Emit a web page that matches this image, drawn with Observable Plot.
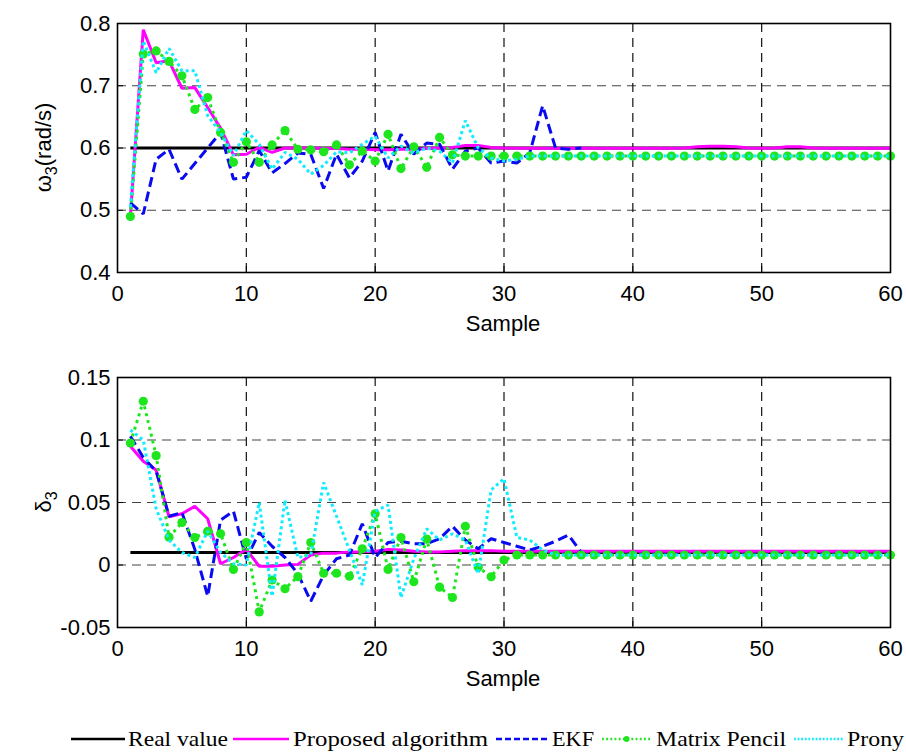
<!DOCTYPE html>
<html>
<head>
<meta charset="utf-8">
<script src="https://cdn.jsdelivr.net/npm/d3@7"></script>
<script src="https://cdn.jsdelivr.net/npm/@observablehq/plot@0.6"></script>
<style>
  html, body { margin: 0; padding: 0; background: white; }
  #wrap { position: relative; width: 906px; height: 754px; background: white; overflow: hidden; }
  #wrap > svg, #wrap > div { position: absolute; left: 0; }
</style>
</head>
<body>
<div id="wrap"></div>
<script>
// ---------- data ----------
const samples = [1,2,3,4,5,6,7,8,9,10,11,12,13,14,15,16,17,18,19,20,21,22,23,24,25,26,27,28,29,30,
  31,32,33,34,35,36,37,38,39,40,41,42,43,44,45,46,47,48,49,50,51,52,53,54,55,56,57,58,59,60];
const seriesNames = ["Real value", "Proposed algorithm", "EKF", "Matrix Pencil", "Prony"];
const xTicks = [0, 10, 20, 30, 40, 50, 60];
const omegaTicks = [0.4, 0.5, 0.6, 0.7, 0.8];
const deltaTicks = [-0.05, 0, 0.05, 0.1, 0.15];

// omega_3 (rad/s)
const omegaReal = [0.6,0.6,0.6,0.6,0.6,0.6,0.6,0.6,0.6,0.6,0.6,0.6,0.6,0.6,0.6,0.6,0.6,0.6,0.6,0.6,
  0.6,0.6,0.6,0.6,0.6,0.6,0.6,0.6,0.6,0.6,0.6,0.6,0.6,0.6,0.6,0.6,0.6,0.6,0.6,0.6,
  0.6,0.6,0.6,0.6,0.6,0.6,0.6,0.6,0.6,0.6,0.6,0.6,0.6,0.6,0.6,0.6,0.6,0.6,0.6,0.6];
const omegaProposed = [0.49,0.79,0.737,0.74,0.696,0.697,0.665,0.632,0.589,0.59,0.601,0.593,0.6,0.6,0.6,0.599,0.599,0.598,0.598,0.597,
  0.597,0.598,0.598,0.599,0.6,0.601,0.604,0.604,0.601,0.6,0.5995,0.5995,0.5995,0.5995,0.5995,0.5995,0.5995,0.5995,0.5995,0.5995,
  0.5995,0.5995,0.5995,0.6,0.602,0.603,0.603,0.602,0.6,0.5995,0.6,0.602,0.602,0.6,0.5995,0.5995,0.5995,0.5995,0.5995,0.5995];
const omegaEKF = [0.512,0.494,0.582,0.598,0.55,0.575,0.6,0.625,0.55,0.553,0.596,0.56,0.575,0.592,0.59,0.535,0.59,0.552,0.579,0.625,
  0.563,0.622,0.59,0.608,0.606,0.566,0.595,0.6,0.576,0.579,0.576,0.592,0.668,0.6,0.598,0.6];
const omegaMP = [0.49,0.751,0.756,0.739,0.716,0.662,0.681,0.625,0.577,0.61,0.577,0.605,0.628,0.598,0.597,0.594,0.605,0.573,0.595,0.579,
  0.622,0.567,0.602,0.569,0.617,0.589,0.587,0.587,0.587,0.587,0.587,0.587,0.587,0.587,0.587,0.587,0.587,0.587,0.587,0.587,
  0.587,0.587,0.587,0.587,0.587,0.587,0.587,0.587,0.587,0.587,0.587,0.587,0.587,0.587,0.587,0.587,0.587,0.587,0.587,0.587];
const omegaProny = [0.505,0.772,0.721,0.76,0.724,0.724,0.652,0.625,0.588,0.628,0.606,0.566,0.593,0.582,0.558,0.572,0.594,0.592,0.606,0.619,
  0.584,0.603,0.592,0.6,0.595,0.576,0.644,0.6,0.584,0.579,0.582,0.587,0.587,0.587,0.587,0.587,0.587,0.587,0.587,0.587,
  0.587,0.587,0.587,0.587,0.587,0.587,0.587,0.587,0.587,0.587,0.587,0.587,0.587,0.587,0.587,0.587,0.587,0.587,0.587,0.587];

// delta_3
const deltaReal = [0.01,0.01,0.01,0.01,0.01,0.01,0.01,0.01,0.01,0.01,0.01,0.01,0.01,0.01,0.01,0.01,0.01,0.01,0.01,0.01,
  0.01,0.01,0.01,0.01,0.01,0.01,0.01,0.01,0.01,0.01,0.01,0.01,0.01,0.01,0.01,0.01,0.01,0.01,0.01,0.01,
  0.01,0.01,0.01,0.01,0.01,0.01,0.01,0.01,0.01,0.01,0.01,0.01,0.01,0.01,0.01,0.01,0.01,0.01,0.01,0.01];
const deltaProposed = [0.095,0.083,0.076,0.0386,0.041,0.047,0.037,0.001,0.006,0.0125,-0.001,-0.001,0,0.0005,0.008,0.0095,0.0095,0.0105,0.0105,0.011,
  0.0125,0.012,0.011,0.0105,0.0105,0.011,0.0115,0.0115,0.0115,0.011,0.011,0.011,0.011,0.011,0.011,0.011,0.011,0.011,0.011,0.011,
  0.011,0.011,0.011,0.011,0.011,0.011,0.011,0.011,0.011,0.011,0.011,0.011,0.011,0.011,0.011,0.011,0.011,0.011,0.011,0.011];
const deltaEKF = [0.103,0.086,0.075,0.039,0.042,0.0125,-0.025,0.036,0.043,0.005,0.026,0.015,0.006,-0.007,-0.029,-0.008,0.005,0.008,0.033,0.006,
  0.018,0.019,0.017,0.017,0.021,0.031,0.02,0.013,0.021,0.018,0.015,0.012,0.015,0.019,0.024,0.01];
const deltaMP = [0.0976,0.131,0.0875,0.0223,0.034,0.022,0.027,0.025,-0.0035,0.018,-0.0375,-0.012,-0.019,-0.0093,0.018,-0.0066,-0.0066,-0.009,0.013,0.041,
  -0.0035,0.022,-0.0134,0.0207,-0.0177,-0.026,0.031,-0.0018,-0.0094,0.004,0.008,0.008,0.008,0.008,0.008,0.008,0.008,0.008,0.008,0.008,
  0.008,0.008,0.008,0.008,0.008,0.008,0.008,0.008,0.008,0.008,0.008,0.008,0.008,0.008,0.008,0.008,0.008,0.008,0.008,0.008];
const deltaProny = [0.108,0.1,0.045,0.02,0.01,0.006,0.027,0.01,0.001,0,0.05,-0.025,0.052,0.006,0.008,0.066,0.039,0.012,-0.016,0.043,
  0.048,-0.026,0.005,0.029,0.02,0.025,0.02,-0.007,0.06,0.069,0.022,0.02,0.012,0.008,0.008,0.008,0.008,0.008,0.008,0.008,
  0.008,0.008,0.008,0.008,0.008,0.008,0.008,0.008,0.008,0.008,0.008,0.008,0.008,0.008,0.008,0.008,0.008,0.008,0.008,0.008];

// ---------- styles ----------
const styles = {
  "Real value":        {stroke: "#000000", strokeWidth: 3,   dash: null},
  "Proposed algorithm":{stroke: "#ff00ff", strokeWidth: 3,   dash: null},
  "EKF":               {stroke: "#0a0af0", strokeWidth: 3,   dash: "10,5"},
  "Matrix Pencil":     {stroke: "#1ee61e", strokeWidth: 3,   dash: "3,4"},
  "Prony":             {stroke: "#10ecff", strokeWidth: 3,   dash: "3,3"}
};

const toRows = (vals) => vals.map((v, i) => ({sample: samples[i], value: v}));

const sansFont = "'Liberation Sans', Arial, Helvetica, sans-serif";

function makePanel(seriesVals, yDomain, yTicks, tickFmt, height, marginTop) {
  const lineMarks = [];
  seriesNames.forEach((name, k) => {
    const st = styles[name];
    lineMarks.push(Plot.line(toRows(seriesVals[k]), {
      x: "sample", y: "value", stroke: st.stroke, strokeWidth: st.strokeWidth,
      strokeDasharray: st.dash ?? undefined, strokeLinejoin: "miter", strokeLinecap: "butt"
    }));
    if (name === "Matrix Pencil") {
      lineMarks.push(Plot.dot(toRows(seriesVals[k]), {x: "sample", y: "value", r: 4.6, fill: st.stroke, stroke: "none"}));
    }
  });
  return Plot.plot({
    width: 906, height, marginLeft: 117, marginRight: 16, marginTop, marginBottom: 82,
    style: {fontFamily: sansFont, fontSize: "22px", color: "black", background: "white", overflow: "visible"},
    x: {domain: [0, 60]},
    y: {domain: yDomain},
    marks: [
      Plot.ruleY(yTicks.slice(1, -1), {stroke: "#444", strokeDasharray: "9,6", strokeWidth: 1.2}),
      Plot.ruleX(xTicks.slice(1, -1), {stroke: "#111", strokeDasharray: "9,6", strokeWidth: 1.2}),
      Plot.axisX({ticks: xTicks, tickSize: -6, tickPadding: 19, label: null, tickFormat: d => String(d), stroke: "black"}),
      Plot.axisY({ticks: yTicks, tickSize: -6, tickPadding: 13, label: null, tickFormat: tickFmt, stroke: "black"}),
      ...lineMarks,
      Plot.frame({stroke: "black", strokeWidth: 1.6})
    ]
  });
}

const wrap = document.getElementById("wrap");

const topPanel = makePanel([omegaReal, omegaProposed, omegaEKF, omegaMP, omegaProny],
  [0.4, 0.8], omegaTicks, d => d.toFixed(1), 354, 23);
topPanel.style.top = "0px";
wrap.appendChild(topPanel);

const bottomPanel = makePanel([deltaReal, deltaProposed, deltaEKF, deltaMP, deltaProny],
  [-0.05, 0.15], deltaTicks, d => String(+d.toFixed(2)), 359, 27);
bottomPanel.style.top = "350px";
wrap.appendChild(bottomPanel);

// axis titles (real text with subscripts)
function addTitles(svg, yMain, ySub, plotTop, plotBottom) {
  const s = d3.select(svg);
  s.append("text").attr("x", 503).attr("y", plotBottom + 59)
    .attr("text-anchor", "middle").attr("font-family", sansFont).attr("font-size", 22).attr("fill", "black")
    .text("Sample");
  const cy = (plotTop + plotBottom) / 2;
  const t = s.append("text").attr("transform", `translate(51,${cy}) rotate(-90)`)
    .attr("text-anchor", "middle").attr("font-family", sansFont).attr("font-size", 22).attr("fill", "black");
  t.append("tspan").text(yMain);
  t.append("tspan").attr("font-size", 16).attr("dy", 6).text("3");
  if (ySub) t.append("tspan").attr("dy", -6).text(ySub);
}
addTitles(topPanel, "ω", "(rad/s)", 23, 272);
addTitles(bottomPanel, "δ", null, 27, 277);

// legend
const legendItems = [
  {name: "Real value",         x1: 71,  x2: 125, tx: 128, tw: 100},
  {name: "Proposed algorithm", x1: 233, x2: 289, tx: 293, tw: 195},
  {name: "EKF",                x1: 496, x2: 548, tx: 552, tw: 42},
  {name: "Matrix Pencil",      x1: 602, x2: 651, tx: 656, tw: 130},
  {name: "Prony",              x1: 794, x2: 843, tx: 847, tw: 57}
];
const leg = d3.create("svg").attr("width", 906).attr("height", 48).style("top", "706px");
legendItems.forEach(it => {
  const st = styles[it.name];
  leg.append("line").attr("x1", it.x1).attr("x2", it.x2).attr("y1", 33).attr("y2", 33)
    .attr("stroke", st.stroke).attr("stroke-width", 2.5)
    .attr("stroke-dasharray", st.dash ? st.dash.split(",").map(v => v * 0.6).join(",") : null);
  if (it.name === "Matrix Pencil") {
    leg.append("circle").attr("cx", (it.x1 + it.x2) / 2).attr("cy", 33).attr("r", 3).attr("fill", st.stroke);
  }
  leg.append("text").attr("x", it.tx).attr("y", 40)
    .attr("font-family", "'Liberation Serif', 'Times New Roman', serif").attr("font-size", 22)
    .attr("fill", "black").attr("textLength", it.tw).attr("lengthAdjust", "spacingAndGlyphs")
    .text(it.name);
});
wrap.appendChild(leg.node());
</script>
</body>
</html>
